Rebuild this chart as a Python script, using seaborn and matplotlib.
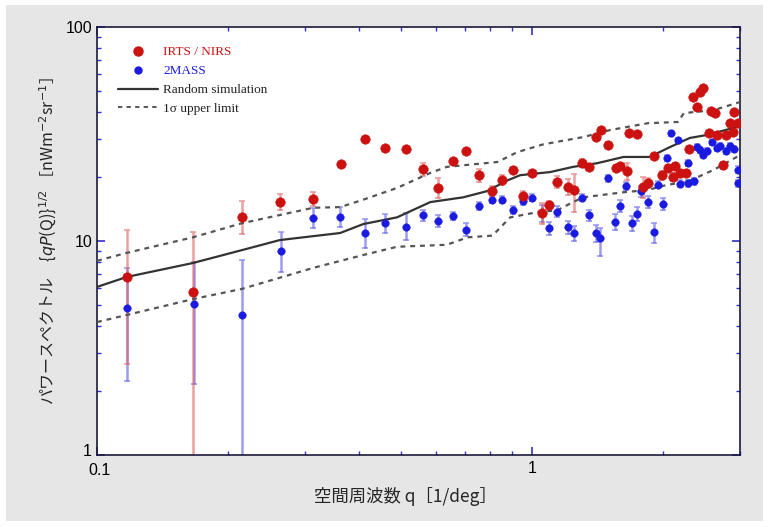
import matplotlib
matplotlib.use("Agg")
import matplotlib.pyplot as plt
import matplotlib.transforms as mtransforms
import seaborn as sns
import numpy as np
import pandas as pd
from matplotlib.lines import Line2D
from matplotlib.patches import Rectangle
from matplotlib.ticker import FixedLocator, FixedFormatter, NullFormatter, LogLocator

# ---------------- data ----------------
red_x = [0.117, 0.166, 0.215, 0.263, 0.314, 0.363, 0.413, 0.459, 0.513, 0.562,
         0.608, 0.658, 0.705, 0.755, 0.809, 0.853, 0.904, 0.953, 1.00, 1.05,
         1.09, 1.14, 1.21, 1.25, 1.30, 1.35, 1.40, 1.44, 1.49, 1.56,
         1.59, 1.65, 1.67, 1.74, 1.80, 1.84, 1.90, 1.99, 2.05, 2.10,
         2.13, 2.18, 2.25, 2.29, 2.34, 2.39, 2.43, 2.47, 2.55, 2.58,
         2.63, 2.66, 2.74, 2.78, 2.85, 2.90, 2.89, 2.97]
red_y = [6.8, 5.8, 12.9, 15.2, 15.7, 22.9, 30.0, 27.2, 26.9, 21.7,
         17.7, 23.6, 26.3, 20.3, 17.1, 19.3, 21.5, 16.2, 20.8, 13.5,
         14.7, 18.9, 17.9, 17.3, 23.1, 22.2, 30.6, 33.0, 28.1, 21.9,
         22.4, 21.2, 31.9, 31.6, 17.9, 18.6, 25.0, 20.3, 21.9, 19.9,
         22.4, 20.8, 20.8, 26.9, 47.1, 42.1, 49.5, 51.7, 32.0, 40.5,
         39.7, 31.3, 22.6, 31.3, 35.5, 40.0, 32.3, 35.5]
red_lo = [2.66, 0.3, 10.8, 13.9, 14.6, 22.3, 29.4, 26.5, 26.2, 20.2,
          15.8, 23.0, 25.6, 18.9, 16.1, 18.3, 20.9, 15.2, 20.2, 12.0,
          14.1, 17.7, 16.4, 13.6, 22.1, 21.5, 29.8, 32.2, 27.3, 21.2,
          21.6, 19.2, 31.1, 30.8, 15.9, 17.6, 24.2, 19.3, 21.1, 19.1,
          21.6, 20.1, 20.1, 26.1, 46.0, 41.0, 48.3, 50.5, 31.0, 39.4,
          38.6, 30.4, 21.8, 30.4, 34.5, 39.0, 31.4, 34.5]
red_hi = [11.3, 11.0, 15.4, 16.6, 17.0, 23.5, 30.6, 27.9, 27.6, 23.2,
          19.7, 24.2, 27.0, 21.8, 18.1, 20.3, 22.1, 17.2, 21.4, 15.0,
          15.3, 20.1, 19.4, 20.5, 24.1, 22.9, 31.4, 33.8, 28.9, 22.6,
          23.2, 23.2, 32.7, 32.4, 19.9, 19.6, 25.8, 21.3, 22.7, 20.7,
          23.2, 21.5, 21.5, 27.7, 48.2, 43.2, 50.7, 52.9, 33.0, 41.6,
          40.8, 32.2, 23.4, 32.2, 36.5, 41.0, 33.2, 36.5]

blue_x = [0.117, 0.167, 0.215, 0.265, 0.314, 0.362, 0.413, 0.459, 0.513, 0.562,
          0.608, 0.658, 0.705, 0.755, 0.809, 0.853, 0.904, 0.953, 1.00, 1.05,
          1.09, 1.14, 1.21, 1.25, 1.30, 1.35, 1.40, 1.43, 1.49, 1.55,
          1.59, 1.64, 1.69, 1.74, 1.78, 1.84, 1.90, 1.94, 2.00, 2.04,
          2.08, 2.16, 2.18, 2.28, 2.28, 2.35, 2.39, 2.43, 2.47, 2.52,
          2.59, 2.66, 2.70, 2.78, 2.85, 2.91, 2.97, 2.97]
blue_y = [4.86, 5.08, 4.52, 8.98, 12.8, 13.0, 10.9, 12.1, 11.6, 13.2,
          12.4, 13.1, 11.3, 14.6, 15.6, 15.6, 14.0, 15.4, 15.9, 13.5,
          11.5, 13.7, 11.6, 10.9, 15.9, 13.2, 10.9, 10.3, 19.6, 12.3,
          14.6, 18.1, 12.1, 13.4, 17.1, 15.2, 11.0, 18.3, 14.9, 24.4,
          31.8, 29.5, 18.5, 23.1, 18.6, 19.0, 27.5, 26.6, 25.2, 26.3,
          29.0, 27.2, 27.8, 26.3, 27.8, 26.9, 21.5, 18.6]
blue_lo = [2.22, 2.15, 0.3, 7.16, 11.5, 11.6, 9.3, 10.9, 10.1, 12.4,
           11.6, 12.5, 10.5, 14.0, 15.0, 15.0, 13.4, 14.8, 15.3, 12.3,
           10.7, 12.9, 10.8, 10.0, 15.3, 12.4, 9.9, 8.5, 18.9, 11.3,
           13.6, 17.4, 11.1, 12.4, 16.1, 14.2, 9.8, 17.6, 13.9, 23.6,
           31.0, 28.7, 17.8, 22.3, 17.9, 18.3, 26.7, 25.8, 24.4, 25.5,
           28.2, 26.4, 27.0, 25.5, 27.0, 26.1, 20.7, 17.9]
blue_hi = [7.5, 8.0, 8.15, 11.0, 14.2, 14.4, 12.7, 13.4, 13.5, 14.0,
           13.2, 13.7, 12.1, 15.2, 16.2, 16.2, 14.6, 16.0, 16.5, 14.7,
           12.3, 14.5, 12.4, 11.8, 16.5, 14.0, 11.9, 11.5, 20.3, 13.3,
           15.6, 18.8, 13.1, 14.4, 18.1, 16.2, 12.2, 19.0, 15.9, 25.2,
           32.6, 30.3, 19.2, 23.9, 19.3, 19.7, 28.3, 27.4, 26.0, 27.1,
           29.8, 28.0, 28.6, 27.1, 28.6, 27.7, 22.3, 19.3]

sim_x = [0.1, 0.117, 0.166, 0.215, 0.263, 0.362, 0.409, 0.489, 0.583, 0.694,
         0.787, 0.877, 0.938, 1.10, 1.24, 1.41, 1.62, 1.86, 2.05, 2.30, 2.52, 3.0]
sim_y = [6.1, 6.79, 7.89, 9.06, 10.1, 10.9, 12.0, 12.9, 15.2, 16.0,
         17.1, 19.2, 20.3, 21.0, 22.2, 23.1, 24.7, 24.7, 27.2, 30.3, 31.3, 34.4]

up_x = [0.1, 0.117, 0.166, 0.215, 0.314, 0.362, 0.409, 0.489, 0.583, 0.636,
        0.832, 0.923, 1.06, 1.31, 1.51, 1.84, 2.16, 2.23, 2.61, 3.0]
up_y = [8.08, 8.80, 10.4, 12.1, 14.3, 14.4, 15.6, 17.7, 20.8, 22.2,
        23.4, 26.0, 28.3, 30.6, 33.0, 35.5, 36.0, 39.6, 40.9, 44.6]

low_x = [0.1, 0.117, 0.166, 0.215, 0.314, 0.409, 0.489, 0.636, 0.71, 0.81,
         0.89, 1.04, 1.14, 1.24, 1.31, 1.62, 1.84, 2.04, 2.27, 2.61, 3.0]
low_y = [4.18, 4.51, 5.35, 5.97, 7.49, 8.6, 9.4, 9.6, 10.4, 10.6,
         12.9, 13.7, 13.9, 15.2, 16.0, 16.9, 17.3, 18.3, 18.9, 21.5, 25.2]

x_ticks = [0.1, 1]
x_ticklabels = ["0.1", "1"]
y_ticks = [1, 10, 100]
y_ticklabels = ["1", "10", "100"]

legend_labels = ["IRTS / NIRS", "2MASS", "Random simulation", "1\u03c3 upper limit"]
xlabel = "空間周波数 q［1/deg］"
ylabel = "パワースペクトル　{$qP$(Q)}$^{1/2}$ ［nWm$^{-2}$sr$^{-1}$］"

# ---------------- style ----------------
sns.set_style("white")
plt.rcParams['font.family'] = ['Noto Sans CJK JP', 'DejaVu Sans']
plt.rcParams['mathtext.fontset'] = 'dejavusans'

RED = "#cc1111"
BLUE = "#1a1ae0"
TICKC = "#3030d0"

fig = plt.figure(figsize=(7.7, 5.27), dpi=100, facecolor="white")
fig.patches.append(Rectangle((6 / 770, 6 / 527), 757 / 770, 516 / 527,
                             transform=fig.transFigure, facecolor="#e6e6e6",
                             edgecolor="none", zorder=-10))
ax = fig.add_axes([97 / 770, 1 - 455 / 527, 643 / 770, 428 / 527])
ax.set_facecolor("white")

ax.set_xscale("log")
ax.set_yscale("log")

red_df = pd.DataFrame({"q": red_x, "P": red_y, "lo": red_lo, "hi": red_hi})
blue_df = pd.DataFrame({"q": blue_x, "P": blue_y, "lo": blue_lo, "hi": blue_hi})

# error bars
ax.errorbar(blue_df.q, blue_df.P,
            yerr=[blue_df.P - blue_df.lo, blue_df.hi - blue_df.P],
            fmt="none", ecolor="#5a5ae8", alpha=0.6, elinewidth=1.8,
            capsize=2.5, capthick=1.2, zorder=2)
ax.errorbar(red_df.q, red_df.P,
            yerr=[red_df.P - red_df.lo, red_df.hi - red_df.P],
            fmt="none", ecolor="#e06060", alpha=0.6, elinewidth=1.8,
            capsize=2.5, capthick=1.2, zorder=2)

# lines
sim_df = pd.DataFrame({"q": sim_x, "P": sim_y})
up_df = pd.DataFrame({"q": up_x, "P": up_y})
low_df = pd.DataFrame({"q": low_x, "P": low_y})
sns.lineplot(data=sim_df, x="q", y="P", ax=ax, color="#333333", lw=1.6,
             estimator=None, zorder=3)
for d in (up_df, low_df):
    sns.lineplot(data=d, x="q", y="P", ax=ax, color="#555555", lw=1.6,
                 estimator=None, zorder=3, linestyle=(0, (2.2, 2.2)))

# points
sns.scatterplot(data=blue_df, x="q", y="P", ax=ax, color=BLUE, s=30,
                marker="o", edgecolor=BLUE, linewidth=0.3, zorder=4)
sns.scatterplot(data=red_df, x="q", y="P", ax=ax, color=RED, s=48,
                marker="o", edgecolor=RED, linewidth=0.3, zorder=5)

ax.set_xlim(0.1, 3.0)
ax.set_ylim(1, 100)

ax.xaxis.set_major_locator(FixedLocator(x_ticks))
ax.xaxis.set_major_formatter(FixedFormatter(x_ticklabels))
ax.xaxis.set_minor_locator(LogLocator(base=10, subs=np.arange(2, 10)))
ax.xaxis.set_minor_formatter(NullFormatter())
ax.yaxis.set_major_locator(FixedLocator(y_ticks))
ax.yaxis.set_major_formatter(FixedFormatter(y_ticklabels))
ax.yaxis.set_minor_locator(LogLocator(base=10, subs=np.arange(2, 10)))
ax.yaxis.set_minor_formatter(NullFormatter())

ax.tick_params(which="both", direction="in", top=True, right=True,
               bottom=True, left=True, color=TICKC, labelcolor="black")
ax.tick_params(which="major", length=6, width=1.2)
ax.tick_params(which="minor", length=3, width=1.0)
ax.tick_params(axis="x", pad=4)
ax.tick_params(axis="y", pad=3)

fig.canvas.draw()
for lab in ax.get_xticklabels() + ax.get_yticklabels():
    lab.set_fontfamily(["Liberation Sans", "DejaVu Sans"])
    lab.set_fontsize(11.5)
# nudge the corner labels apart (as in the reference)
xl = ax.get_xticklabels()[0]
xl.set_transform(xl.get_transform() + mtransforms.ScaledTranslation(3 / 100, -2 / 100, fig.dpi_scale_trans))
yl = ax.get_yticklabels()[0]
yl.set_transform(yl.get_transform() + mtransforms.ScaledTranslation(-1 / 100, 5 / 100, fig.dpi_scale_trans))

for sp in ax.spines.values():
    sp.set_color("#1a1a3a")
    sp.set_linewidth(1.2)

ax.set_xlabel(xlabel, fontsize=12.5)
ax.xaxis.set_label_coords((405 - 97) / 643, -0.075)
ax.set_ylabel(ylabel, fontsize=11.5)
ax.yaxis.set_label_coords((59 - 97) / 643, 0.5)

handles = [
    Line2D([], [], marker="o", color=RED, ls="none", ms=6.5),
    Line2D([], [], marker="o", color=BLUE, ls="none", ms=5),
    Line2D([], [], color="#333333", lw=1.6),
    Line2D([], [], color="#555555", lw=1.4, ls=(0, (2.2, 2.2))),
]
leg = ax.legend(handles, legend_labels, loc="upper left",
                bbox_to_anchor=(0.033, 0.955), frameon=False, borderpad=0,
                borderaxespad=0, handlelength=3.0, handletextpad=0.4,
                labelspacing=0.5,
                prop={"family": ["Liberation Serif", "DejaVu Serif"], "size": 9.5})
for t, c in zip(leg.get_texts(), [RED, BLUE, "#222222", "#222222"]):
    t.set_color(c)

fig.savefig("out.png", dpi=100, facecolor=fig.get_facecolor())
